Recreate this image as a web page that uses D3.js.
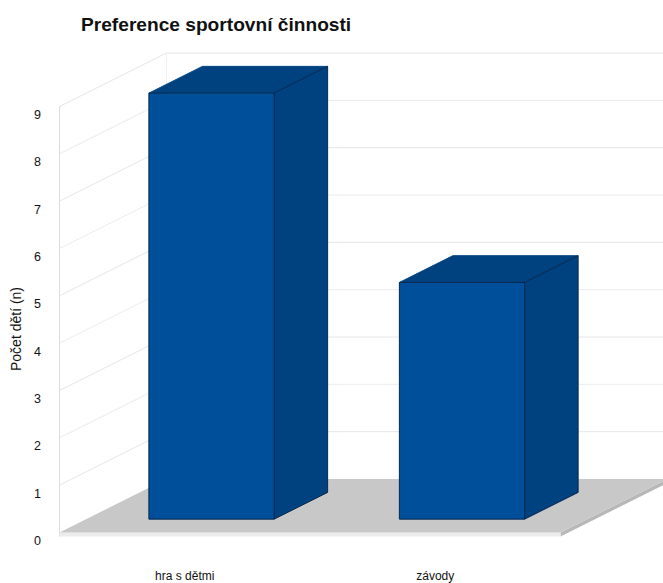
<!DOCTYPE html>
<html>
<head>
<meta charset="utf-8">
<script src="https://cdn.jsdelivr.net/npm/d3@7/dist/d3.min.js"></script>
<style>
html,body{margin:0;padding:0;background:#fff}
svg{display:block}
text{font-family:"Liberation Sans",Arial,sans-serif;fill:#111}
</style>
</head>
<body>
<div id="chart"></div>
<script>
// Chart content
const categories = ["hra s dětmi", "závody"];
const counts = [9, 5];
const yTicks = [0, 1, 2, 3, 4, 5, 6, 7, 8, 9];
const chartTitle = "Preference sportovní činnosti";
const yTitle = "Počet dětí (n)";

const W = 663, H = 583;
const svg = d3.select("#chart").append("svg").attr("width", W).attr("height", H);

// Front plane scales
const x = d3.scaleBand().domain(categories).range([59.5, 560.5]).paddingInner(0).paddingOuter(0);
const y = d3.scaleLinear().domain([0, 9]).range([532.5, 106.5]);
// Depth scales: 0 is the front edge of the floor, 1 the back wall
const dx = d3.scaleLinear().domain([0, 1]).range([0, 107]);
const dy = d3.scaleLinear().domain([0, 1]).range([0, -53.5]);

// Projects a (front-plane x, value, depth) position to the screen
const proj = (px, v, d) => [px + dx(d), y(v) + dy(d)];
const poly = pts => pts.map(p => p.join(",")).join(" ");

const x0 = x.range()[0], x1 = x.range()[1];

// Walls and gridlines
const walls = svg.append("g").attr("fill", "none");
yTicks.forEach(t => {
  const a = proj(x0, t, 0), b = proj(x0, t, 1), c = proj(x1, t, 1);
  if (t > 0) walls.append("polyline").attr("points", poly([a, b, c])).attr("stroke", t % 2 ? "#e6e6e6" : "#ececec");
});
walls.append("line").attr("x1", x0).attr("x2", x0).attr("y1", y(9)).attr("y2", y(0) + 4).attr("stroke", "#dddddd");
const bl = proj(x0, 0, 1), tl = proj(x0, 9, 1);
walls.append("line").attr("x1", bl[0]).attr("x2", tl[0]).attr("y1", bl[1]).attr("y2", tl[1]).attr("stroke", "#f0f0f0");

// Floor slab
const slab = 4;
const f = [proj(x0, 0, 0), proj(x1, 0, 0), proj(x1, 0, 1), proj(x0, 0, 1)];
svg.append("polygon").attr("fill", "#b8b8b8")
  .attr("points", poly([f[1], [f[1][0], f[1][1] + slab], [f[2][0], f[2][1] + slab], f[2]]));
svg.append("polygon").attr("fill", "#ececec")
  .attr("points", poly([f[0], f[1], [f[1][0], f[1][1] + slab], [f[0][0], f[0][1] + slab]]));
svg.append("polygon").attr("fill", "#c8c8c8").attr("points", poly(f));

// Bars: each box sits from a quarter to three quarters of the floor depth
const bw = x.bandwidth() / 2;
const bars = svg.append("g").selectAll("g").data(categories.map((c, i) => ({c, v: counts[i]}))).join("g")
  .attr("stroke", "#06294f").attr("stroke-width", 1).attr("stroke-linejoin", "round");

bars.each(function(d) {
  const g = d3.select(this);
  const l = x(d.c) + bw / 2, r = l + bw;
  // Top face
  g.append("polygon").attr("fill", "#00417f").attr("stroke", "#00417f")
    .attr("points", poly([proj(l, d.v, .25), proj(r, d.v, .25), proj(r, d.v, .75), proj(l, d.v, .75)]));
  // Side face
  g.append("polygon").attr("fill", "#00417f")
    .attr("points", poly([proj(r, 0, .25), proj(r, d.v, .25), proj(r, d.v, .75), proj(r, 0, .75)]));
  // Front face
  g.append("polygon").attr("fill", "#004f9a")
    .attr("points", poly([proj(l, 0, .25), proj(r, 0, .25), proj(r, d.v, .25), proj(l, d.v, .25)]));
});

// Value axis labels, set slightly below their gridlines
const yAxis = d3.axisLeft(y).tickValues(yTicks).tickSize(0).tickPadding(0).tickFormat(d3.format("d"));
const yG = svg.append("g").attr("transform", "translate(41,8)").call(yAxis);
yG.select(".domain").remove();
yG.selectAll("text").attr("font-size", 12.5).style("font-family", '"Liberation Sans",Arial,sans-serif').attr("fill", "#111");

// Category labels
svg.append("g").selectAll("text").data(categories).join("text")
  .attr("x", d => x(d) + x.bandwidth() / 2)
  .attr("y", 580)
  .attr("text-anchor", "middle")
  .attr("font-size", 12)
  .text(d => d);

// Titles
svg.append("text").attr("x", 81).attr("y", 31).attr("font-size", 19.15).attr("font-weight", "bold").text(chartTitle);
svg.append("text").attr("transform", "translate(21,329) rotate(-90)").attr("text-anchor", "middle")
  .attr("font-size", 14).text(yTitle);
</script>
</body>
</html>
